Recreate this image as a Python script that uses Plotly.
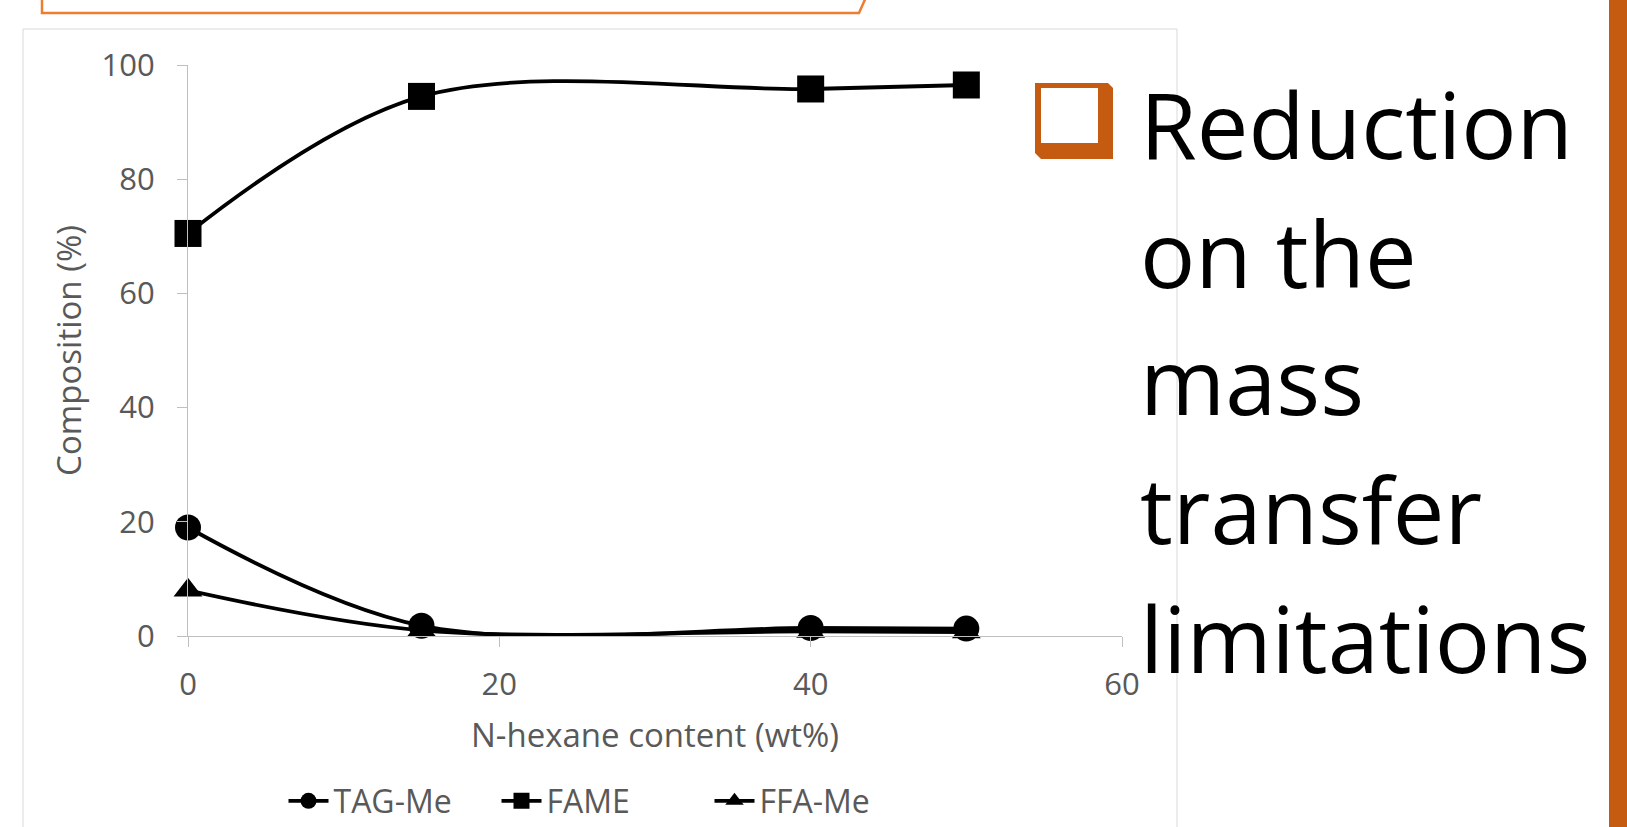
import plotly.graph_objects as go

# ---- data ----
hexane = [0, 15, 40, 50]
tag_me = [19.0, 1.8, 1.4, 1.3]
fame = [70.5, 94.5, 95.8, 96.5]
ffa_me = [8.0, 1.0, 0.8, 0.7]

series_names = ["TAG-Me", "FAME", "FFA-Me"]
series_symbols = ["circle", "square", "triangle-up"]
x_ticks = [0, 20, 40, 60]
y_ticks = [0, 20, 40, 60, 80, 100]

bullet_lines = ["Reduction", "on the", "mass", "transfer", "limitations"]

# ---- layout geometry (pixels) ----
W, H = 1627, 827
L, R, T, B = 188, 1122, 65, 636
PW, PH = R - L, B - T


def px(x):
    return (x - L) / PW


def py(y):
    return (B - y) / PH


fig = go.Figure()
marker_sizes = [26, 27, 25]
for name, ys, sym, ms in zip(series_names, [tag_me, fame, ffa_me], series_symbols, marker_sizes):
    fig.add_trace(go.Scatter(
        x=hexane, y=ys, name=name, mode="lines+markers",
        line=dict(color="black", width=3.8, shape="spline", smoothing=1.0),
        marker=dict(symbol=sym, size=ms, color="black"),
        cliponaxis=False,
    ))

gray_txt = "#595959"
axis_col = "#bfbfbf"
FONT = "Open Sans"

fig.update_xaxes(
    range=[0, 60], tickvals=x_ticks, showgrid=False, zeroline=False,
    showline=True, linecolor=axis_col, linewidth=1,
    ticks="outside", ticklen=10, tickcolor=axis_col,
    tickfont=dict(family=FONT, size=31, color=gray_txt),
    ticklabelstandoff=11,
    title=dict(text="N-hexane content (wt%)", standoff=20,
               font=dict(family=FONT, size=33, color=gray_txt)),
)
fig.update_yaxes(
    range=[0, 100], tickvals=y_ticks, showgrid=False, zeroline=False,
    showline=True, linecolor=axis_col, linewidth=1,
    ticks="outside", ticklen=10, tickcolor=axis_col,
    tickfont=dict(family=FONT, size=31, color=gray_txt),
    ticklabelstandoff=16,
    title=dict(text="Composition (%)", standoff=10,
               font=dict(family=FONT, size=33, color=gray_txt)),
)

shapes = []
# chart border box
shapes.append(dict(type="rect", xref="paper", yref="paper",
                   x0=px(23), x1=px(1177), y0=py(860), y1=py(29),
                   line=dict(color="#d9d9d9", width=1), layer="below"))
# orange header outline at top
shapes.append(dict(type="path", xref="paper", yref="paper",
                   path=f"M {px(42)} {py(-5)} L {px(42)} {py(13)} L {px(859)} {py(13)} L {px(867)} {py(-5)}",
                   line=dict(color="#ED7D31", width=2.5)))
# right orange bar
shapes.append(dict(type="rect", xref="paper", yref="paper",
                   x0=px(1609), x1=px(1640), y0=py(870), y1=py(-10),
                   line=dict(width=0), fillcolor="#C55A11"))
# bullet box (outer orange with chamfered corners)
shapes.append(dict(type="path", xref="paper", yref="paper",
                   path=(f"M {px(1035)} {py(83)} L {px(1108)} {py(83)} L {px(1113)} {py(88)} "
                         f"L {px(1113)} {py(159)} L {px(1041)} {py(159)} L {px(1035)} {py(153)} Z"),
                   line=dict(width=0), fillcolor="#C55A11"))
shapes.append(dict(type="rect", xref="paper", yref="paper",
                   x0=px(1041), x1=px(1098), y0=py(143), y1=py(88),
                   line=dict(width=0), fillcolor="white"))

annotations = []
baselines = [158, 287, 414, 543, 672]
for txt, bl in zip(bullet_lines, baselines):
    annotations.append(dict(
        text=txt, xref="paper", yref="paper", x=px(1138), y=py(bl - 35),
        xanchor="left", yanchor="middle", showarrow=False,
        font=dict(family=FONT, size=92, color="black"),
    ))

fig.update_layout(
    width=W, height=H,
    margin=dict(l=L, r=W - R, t=T, b=H - B, pad=0, autoexpand=False),
    paper_bgcolor="white", plot_bgcolor="white",
    shapes=shapes, annotations=annotations,
    showlegend=True,
    legend=dict(orientation="h", x=px(603), y=py(801), xanchor="center", yanchor="middle",
                font=dict(family=FONT, size=32, color=gray_txt),
                bgcolor="rgba(0,0,0,0)", itemwidth=40, entrywidth=158),
)

fig.write_html(
    "out.html",
    config={"displayModeBar": False},
    post_script="document.body.style.margin='0px';document.body.style.overflow='hidden';",
)
